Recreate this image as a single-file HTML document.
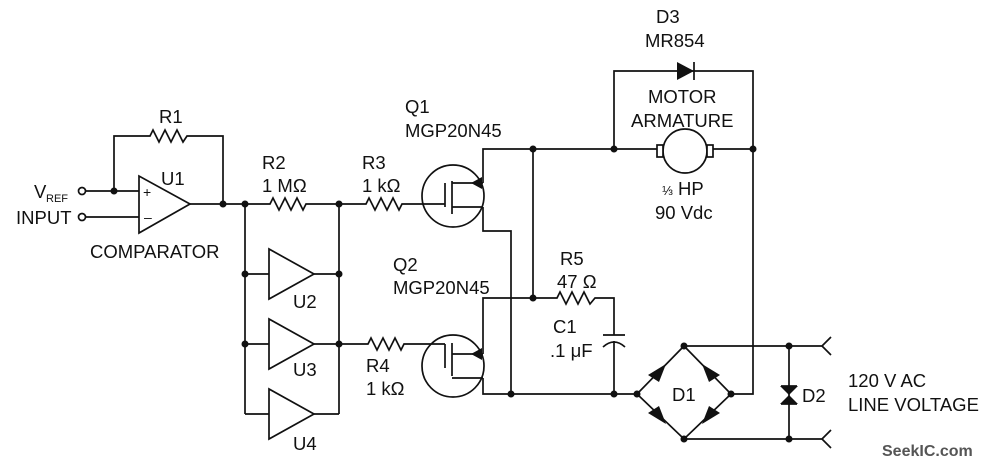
<!DOCTYPE html>
<html><head><style>
body{margin:0;background:#fff}
svg{display:block}
text{font-family:"Liberation Sans",sans-serif;font-size:18.5px;fill:#111}
</style></head><body>
<svg width="1002" height="470" viewBox="0 0 1002 470" xmlns="http://www.w3.org/2000/svg">
<g stroke="#111" stroke-width="1.7" fill="none">
<polyline points="114,191 114,136 150,136 153,130 159,142 165,130 171,142 177,130 183,142 187,136 223,136 223,204"/>
<line x1="86" y1="191" x2="139" y2="191"/>
<line x1="86" y1="217" x2="139" y2="217"/>
<circle cx="82" cy="191" r="3.5" fill="#fff"/>
<circle cx="82" cy="217" r="3.5" fill="#fff"/>
<polygon points="139,176 139,233 190,204"/>
<polyline points="190,204 270,204 273,198 279,210 285,198 291,210 297,198 303,210 306,204 366,204 369,198 375,210 381,198 387,210 393,198 399,210 402,204 445,204"/>
<line x1="245" y1="204" x2="245" y2="414"/>
<line x1="339" y1="204" x2="339" y2="414"/>
<polygon points="269,249 269,299 314,274"/>
<polygon points="269,319 269,369 314,344"/>
<polygon points="269,389 269,439 314,414"/>
<line x1="245" y1="274" x2="269" y2="274"/><line x1="314" y1="274" x2="339" y2="274"/>
<line x1="245" y1="344" x2="269" y2="344"/>
<polyline points="314,344 368,344 371,338 377,350 383,338 389,350 395,338 401,350 404,344 445,344"/>
<line x1="245" y1="414" x2="269" y2="414"/><line x1="314" y1="414" x2="339" y2="414"/>
<circle cx="453" cy="196" r="31"/>
<line x1="445" y1="183" x2="445" y2="207"/>
<line x1="452" y1="181" x2="452" y2="214"/>
<line x1="452" y1="183" x2="483" y2="183"/>
<line x1="452" y1="207" x2="483" y2="207"/>
<polyline points="483,183 483,149 753,149"/>
<polyline points="483,207 483,231 511,231 511,394"/>
<circle cx="453" cy="366" r="31"/>
<line x1="445" y1="344" x2="445" y2="368"/>
<line x1="452" y1="343" x2="452" y2="376"/>
<line x1="452" y1="354" x2="483" y2="354"/>
<line x1="452" y1="378" x2="483" y2="378"/>
<polyline points="483,354 483,298 557,298 560,292 566,304 572,292 578,304 584,292 590,304 595,298 614,298 614,335"/>
<polyline points="483,378 483,394 637,394"/>
<line x1="533" y1="149" x2="533" y2="298"/>
<line x1="603" y1="335" x2="625" y2="335"/>
<path d="M603,347 Q614,337 625,347"/>
<line x1="614" y1="341" x2="614" y2="394"/>
<polyline points="614,149 614,71 753,71 753,394 731,394"/>
<line x1="694" y1="62" x2="694" y2="80"/>
<circle cx="685" cy="151" r="22" fill="#fff"/>
<rect x="657" y="145" width="6" height="12" fill="#fff"/>
<rect x="707" y="145" width="6" height="12" fill="#fff"/>
<polygon points="684,346 731,394 684,439 637,394"/>
<polyline points="684,346 822,346 831,337"/>
<line x1="822" y1="346" x2="831" y2="355"/>
<polyline points="684,439 822,439 831,430"/>
<line x1="822" y1="439" x2="831" y2="448"/>
<line x1="789" y1="346" x2="789" y2="439"/>
<line x1="781" y1="386" x2="797" y2="386"/>
<line x1="781" y1="404" x2="797" y2="404"/>
</g>
<g fill="#111">
<polygon points="677,62 677,80 694,71"/>
<polygon points="780,386 798,386 789,395"/>
<polygon points="780,404 798,404 789,395"/>
<polygon points="648,375 666,364 659,382"/>
<polygon points="702,364 720,375 709,382"/>
<polygon points="648,413 659,406 666,424"/>
<polygon points="720,413 709,406 702,424"/>
<polygon points="471,183 482,177 482,189"/>
<polygon points="471,354 482,348 482,360"/>
<circle cx="114" cy="191" r="3.5"/><circle cx="223" cy="204" r="3.5"/><circle cx="245" cy="204" r="3.5"/><circle cx="339" cy="204" r="3.5"/>
<circle cx="245" cy="274" r="3.5"/><circle cx="339" cy="274" r="3.5"/><circle cx="245" cy="344" r="3.5"/><circle cx="339" cy="344" r="3.5"/>
<circle cx="533" cy="149" r="3.5"/><circle cx="614" cy="149" r="3.5"/><circle cx="753" cy="149" r="3.5"/>
<circle cx="533" cy="298" r="3.5"/><circle cx="511" cy="394" r="3.5"/><circle cx="614" cy="394" r="3.5"/><circle cx="637" cy="394" r="3.5"/>
<circle cx="684" cy="346" r="3.5"/><circle cx="731" cy="394" r="3.5"/><circle cx="684" cy="439" r="3.5"/>
<circle cx="789" cy="346" r="3.5"/><circle cx="789" cy="439" r="3.5"/>
</g>
<text x="143" y="197" style="font-size:14px">+</text>
<text x="144" y="222" style="font-size:14px">–</text>
<text x="34" y="198">V</text><text x="46" y="202" style="font-size:11px">REF</text>
<text x="16" y="224">INPUT</text>
<text x="159" y="123">R1</text>
<text x="161" y="185">U1</text>
<text x="90" y="258">COMPARATOR</text>
<text x="262" y="169">R2</text><text x="262" y="192">1 MΩ</text>
<text x="362" y="169">R3</text><text x="362" y="192">1 kΩ</text>
<text x="366" y="372">R4</text><text x="366" y="395">1 kΩ</text>
<text x="293" y="308">U2</text><text x="293" y="376">U3</text><text x="293" y="450">U4</text>
<text x="405" y="113">Q1</text><text x="405" y="137">MGP20N45</text>
<text x="393" y="271">Q2</text><text x="393" y="294">MGP20N45</text>
<text x="656" y="23">D3</text><text x="645" y="47">MR854</text>
<text x="648" y="103">MOTOR</text><text x="631" y="127">ARMATURE</text>
<text x="662" y="195"><tspan style="font-size:13px">⅓</tspan> HP</text><text x="655" y="219">90 Vdc</text>
<text x="560" y="265">R5</text><text x="557" y="288">47 Ω</text>
<text x="553" y="333">C1</text><text x="550" y="357">.1 μF</text>
<text x="672" y="401">D1</text><text x="802" y="402">D2</text>
<text x="848" y="387">120 V  AC</text><text x="848" y="411">LINE VOLTAGE</text>
<text x="882" y="456" style="font-size:16px;font-weight:bold;fill:#555">SeekIC.com</text>
</svg>
</body></html>
